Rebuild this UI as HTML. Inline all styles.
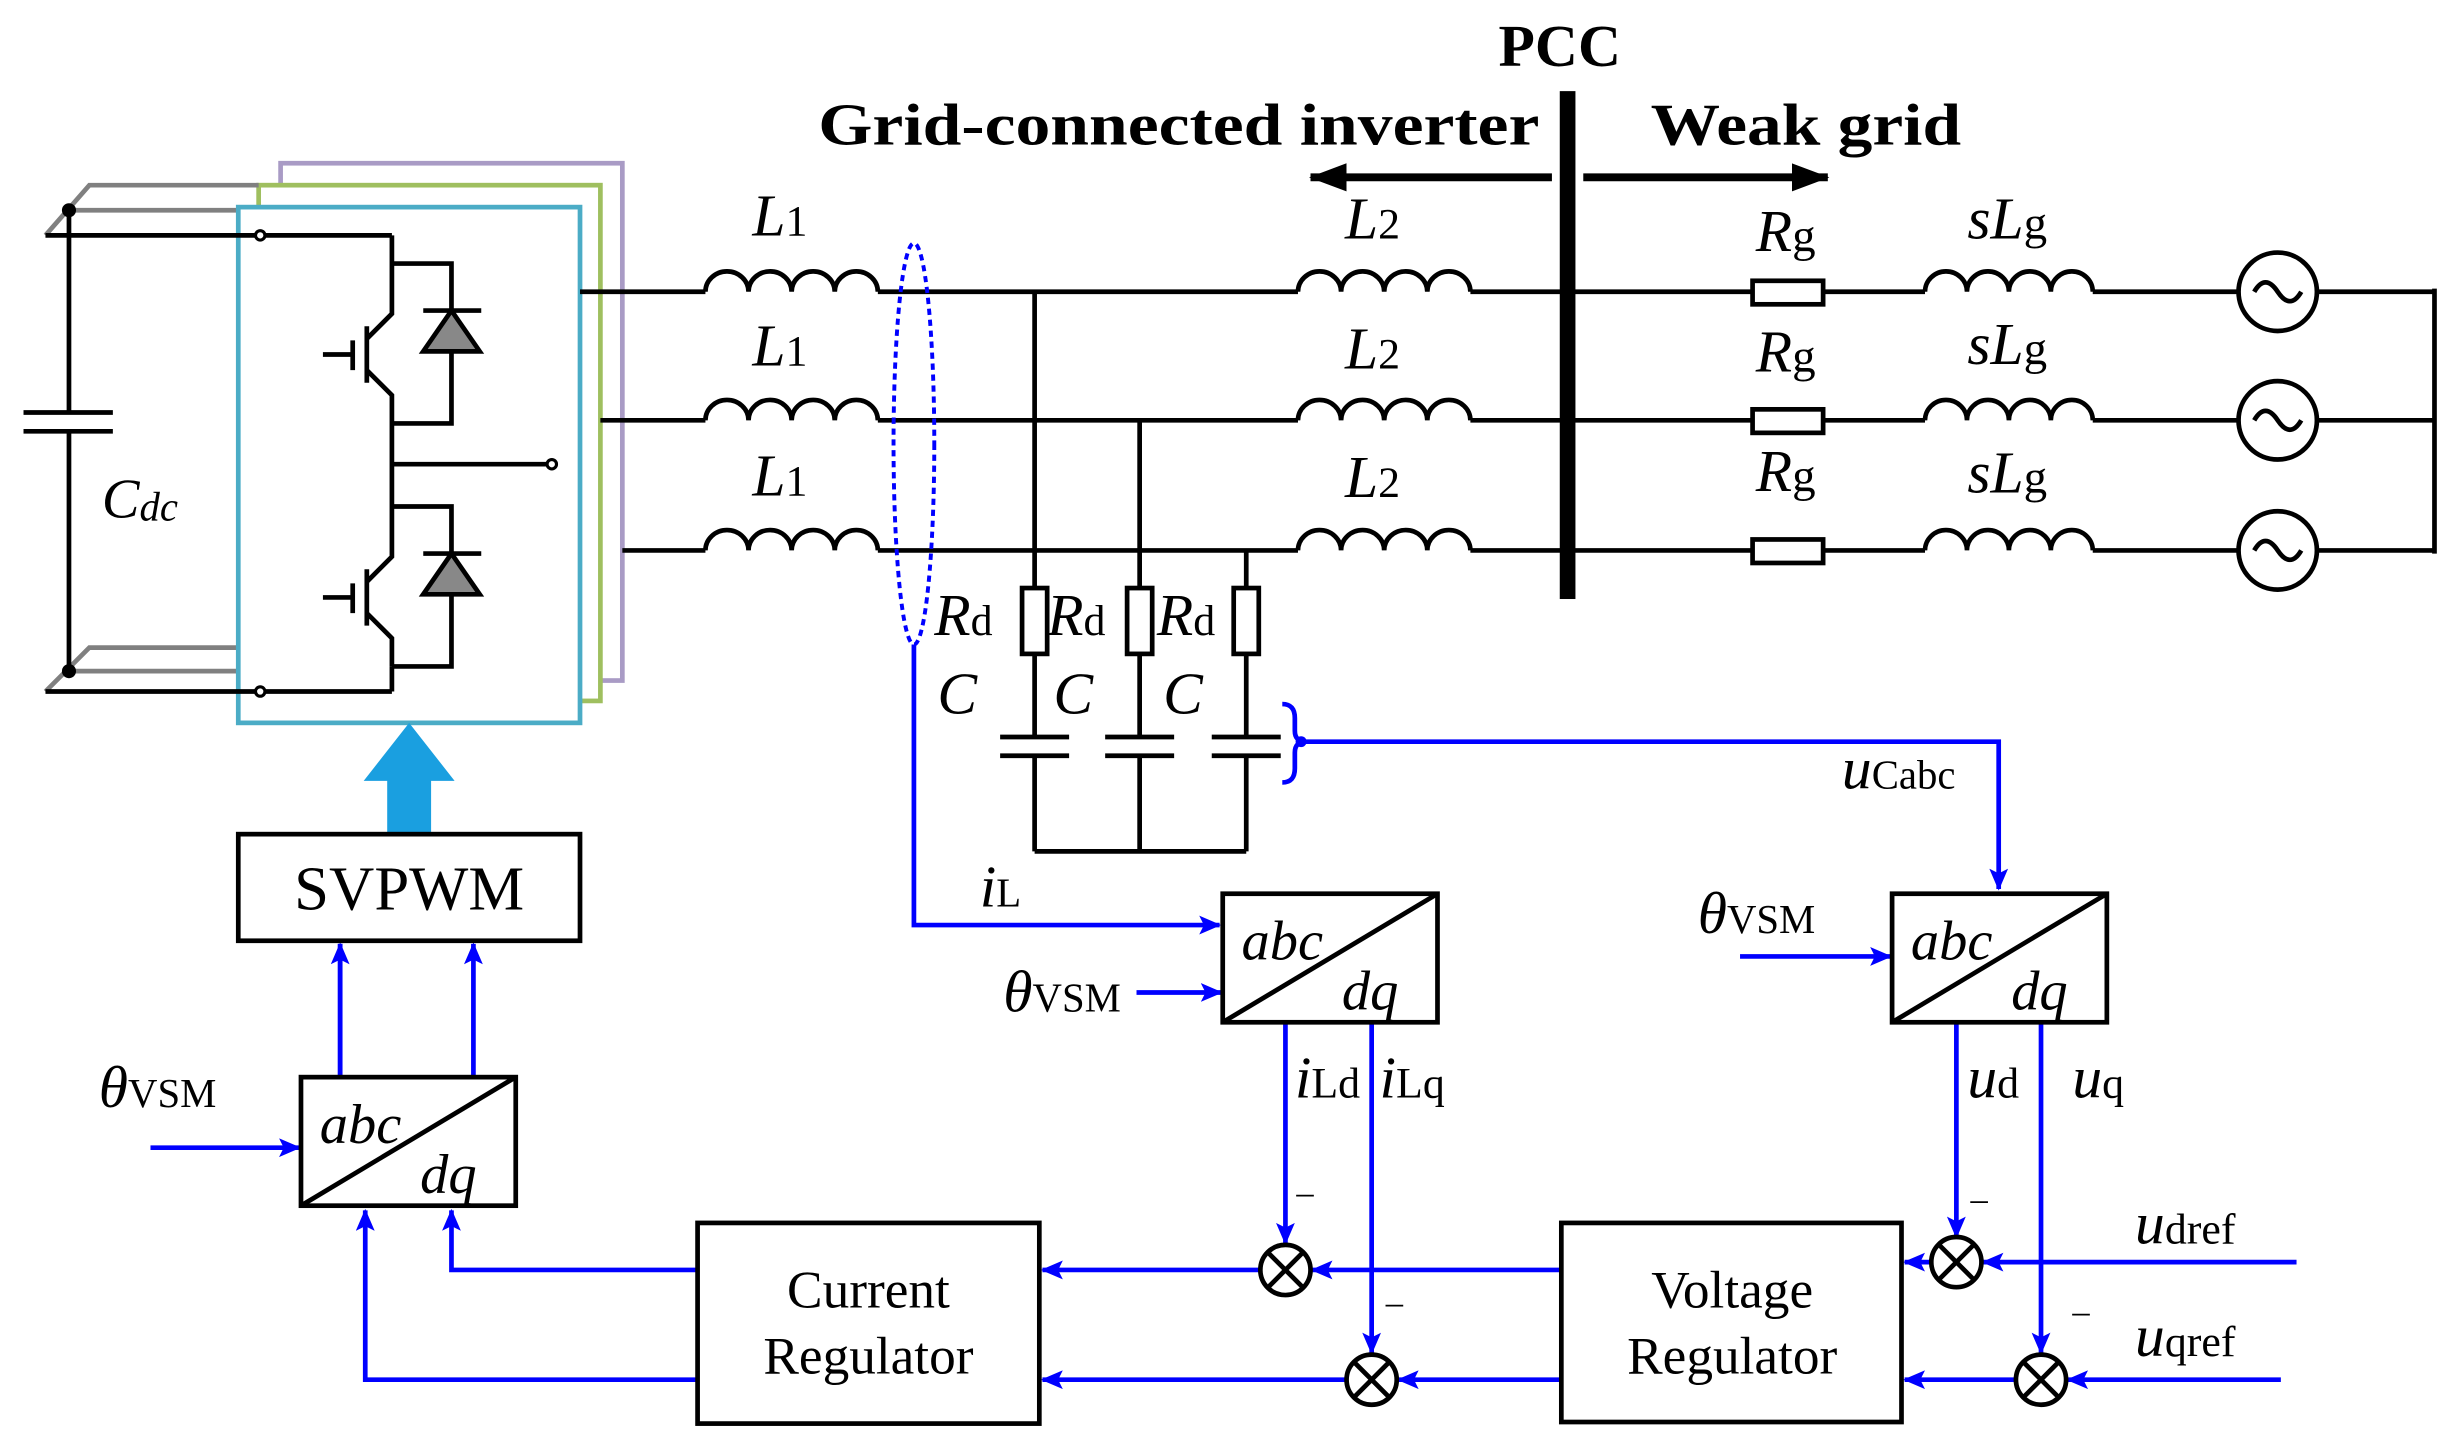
<!DOCTYPE html>
<html><head><meta charset="utf-8"><style>
html,body{margin:0;padding:0;background:#fff;}
svg{display:block;}
text{font-family:"Liberation Serif",serif;fill:#000;}
.it{font-style:italic;}
</style></head><body>
<svg width="2458" height="1452" viewBox="0 0 1568 926" xmlns="http://www.w3.org/2000/svg">
<defs>
<marker id="ab" markerWidth="14" markerHeight="12" refX="13" refY="6" orient="auto" markerUnits="userSpaceOnUse" viewBox="0 0 14 12"><path d="M0,0 L14,6 L0,12 L3,6 Z" fill="#0000ff"/></marker>
<marker id="ak" markerWidth="24" markerHeight="18" refX="23" refY="9" orient="auto" markerUnits="userSpaceOnUse"><path d="M0,0 L24,9 L0,18 Z" fill="#000"/></marker>
<g id="ind"><path d="M0,0 a13.75,13 0 0 1 27.5,0 a13.75,13 0 0 1 27.5,0 a13.75,13 0 0 1 27.5,0 a13.75,13 0 0 1 27.5,0" fill="none" stroke="#000" stroke-width="3"/></g>
<g id="sw" stroke="#000" stroke-width="3" fill="none">
<path d="M250,0 V32 L234,48 M234,40 V76 M225,49 V68 M206,58 H225 M234,68 L250,84 V102"/>
<path d="M250,0 H288 V102 H250"/>
<path d="M270,30 H307"/>
<path d="M288,30 L306,56 H270 Z" fill="#888"/>
</g>
<g id="abcdq"><rect x="0" y="0" width="137" height="82" fill="#fff" stroke="#000" stroke-width="3"/><path d="M0,82 L137,0" stroke="#000" stroke-width="3"/>
<text x="12" y="42" font-size="36" class="it">abc</text><text x="76" y="74" font-size="36" class="it">dq</text></g>
<g id="mul"><circle r="16" fill="#fff" stroke="#000" stroke-width="3"/><path d="M-11,-11 L11,11 M-11,11 L11,-11" stroke="#000" stroke-width="3"/></g>
</defs>

<rect x="179" y="104" width="218" height="330" fill="none" stroke="#a99bc5" stroke-width="3"/>
<rect x="165" y="118" width="218" height="329" fill="#fff" stroke="#9fbf5f" stroke-width="3"/>
<path d="M29,150 L57,118 H165 M44,134 H152 M29,441 L57,413 H152 M44,428 H152" fill="none" stroke="#808080" stroke-width="3"/>
<rect x="152" y="132" width="218" height="329" fill="#fff" stroke="#4bacc6" stroke-width="3"/>
<path d="M29,150 H250 M29,441 H250 M44,134 V263 M44,275 V428 M15,263 H72 M15,275 H72" stroke="#000" stroke-width="3" fill="none"/>
<circle cx="44" cy="134" r="4.5"/><circle cx="44" cy="428" r="4.5"/>
<circle cx="166" cy="150" r="3" fill="#fff" stroke="#000" stroke-width="2"/><circle cx="166" cy="441" r="3" fill="#fff" stroke="#000" stroke-width="2"/>
<text x="65" y="330" font-size="36" class="it">C<tspan font-size="26" dy="2">dc</tspan></text>
<use href="#sw" transform="translate(0,168)"/>
<use href="#sw" transform="translate(0,323)"/>
<path d="M250,150 V168 M250,425 V441 M250,270 V323 M250,296 H352" stroke="#000" stroke-width="3"/>
<circle cx="352" cy="296" r="3" fill="#fff" stroke="#000" stroke-width="2"/>

<g stroke="#000" stroke-width="3" fill="none">
<path d="M370,186 H450 M560,186 H828 M938,186 H1118 M1163,186 H1228 M1335,186 H1428 M1478,186 H1553"/>
<path d="M383,268 H450 M560,268 H828 M938,268 H1118 M1163,268 H1228 M1335,268 H1428 M1478,268 H1553"/>
<path d="M397,351 H450 M560,351 H828 M938,351 H1118 M1163,351 H1228 M1335,351 H1428 M1478,351 H1553"/>
<path d="M1553,184 V353"/>
<rect x="1118" y="179" width="45" height="15"/><rect x="1118" y="261" width="45" height="15"/><rect x="1118" y="344" width="45" height="15"/>
<circle cx="1453" cy="186" r="25"/><circle cx="1453" cy="268" r="25"/><circle cx="1453" cy="351" r="25"/>
<path d="M1438,186 q7,-12 15,0 t15,0 M1438,268 q7,-12 15,0 t15,0 M1438,351 q7,-12 15,0 t15,0"/>
<path d="M660,186 V375 M727,268 V375 M795,351 V375 M660,417 V470 M727,417 V470 M795,417 V470 M660,482 V543 M727,482 V543 M795,482 V543 M660,543 H795"/>
<rect x="652" y="375" width="16" height="42"/><rect x="719" y="375" width="16" height="42"/><rect x="787" y="375" width="16" height="42"/>
<path d="M638,470 H682 M638,482 H682 M705,470 H749 M705,482 H749 M773,470 H817 M773,482 H817"/>
</g>
<g>
<use href="#ind" transform="translate(450,186)"/><use href="#ind" transform="translate(450,268)"/><use href="#ind" transform="translate(450,351)"/>
<use href="#ind" transform="translate(828,186)"/><use href="#ind" transform="translate(828,268)"/><use href="#ind" transform="translate(828,351)"/>
<use href="#ind" transform="translate(1228,186) scale(0.973,1)"/><use href="#ind" transform="translate(1228,268) scale(0.973,1)"/><use href="#ind" transform="translate(1228,351) scale(0.973,1)"/>
</g>
<g font-size="38">
<text x="480" y="150" class="it">L<tspan font-size="28" font-style="normal">1</tspan></text>
<text x="480" y="233" class="it">L<tspan font-size="28" font-style="normal">1</tspan></text>
<text x="480" y="316" class="it">L<tspan font-size="28" font-style="normal">1</tspan></text>
<text x="858" y="152" class="it">L<tspan font-size="28" font-style="normal">2</tspan></text>
<text x="858" y="235" class="it">L<tspan font-size="28" font-style="normal">2</tspan></text>
<text x="858" y="317" class="it">L<tspan font-size="28" font-style="normal">2</tspan></text>
<text x="1120" y="160" class="it">R<tspan font-size="30" font-style="normal">g</tspan></text>
<text x="1120" y="237" class="it">R<tspan font-size="30" font-style="normal">g</tspan></text>
<text x="1120" y="313" class="it">R<tspan font-size="30" font-style="normal">g</tspan></text>
<text x="1255" y="152" class="it">sL<tspan font-size="30" font-style="normal">g</tspan></text>
<text x="1255" y="232" class="it">sL<tspan font-size="30" font-style="normal">g</tspan></text>
<text x="1255" y="314" class="it">sL<tspan font-size="30" font-style="normal">g</tspan></text>
<text x="596" y="405" class="it">R<tspan font-size="28" font-style="normal">d</tspan></text>
<text x="668" y="405" class="it">R<tspan font-size="28" font-style="normal">d</tspan></text>
<text x="738" y="405" class="it">R<tspan font-size="28" font-style="normal">d</tspan></text>
<text x="598" y="455" class="it">C</text><text x="672" y="455" class="it">C</text><text x="742" y="455" class="it">C</text>
</g>
<rect x="995" y="58" width="10" height="324" fill="#000"/>
<text x="995" y="42" font-size="38" font-weight="bold" text-anchor="middle">PCC</text>
<text x="522" y="92" font-size="38" font-weight="bold" textLength="460" lengthAdjust="spacingAndGlyphs">Grid-connected inverter</text>
<text x="1053" y="92" font-size="38" font-weight="bold" textLength="198" lengthAdjust="spacingAndGlyphs">Weak grid</text>
<path d="M990,113 H836" stroke="#000" stroke-width="5" marker-end="url(#ak)"/>
<path d="M1010,113 H1166" stroke="#000" stroke-width="5" marker-end="url(#ak)"/>

<ellipse cx="583" cy="283" rx="13" ry="128" fill="none" stroke="#0000ff" stroke-width="2.5" stroke-dasharray="4,3"/>
<g stroke="#0000ff" stroke-width="3" fill="none">
<path d="M583,411 V590 H778" marker-end="url(#ab)"/>
<path d="M818,449 Q826,449 826,458 V466 Q826,473 833,473 Q826,473 826,480 V490 Q826,499 818,499"/>
<path d="M833,473 H1275 V567" marker-end="url(#ab)"/>
<path d="M725,633 H779" marker-end="url(#ab)"/>
<path d="M1110,610 H1206" marker-end="url(#ab)"/>
<path d="M96,732 H191" marker-end="url(#ab)"/>
<path d="M217,687 V602 M302,687 V602" marker-end="url(#ab)"/>
<path d="M217,687 V602" marker-end="url(#ab)"/>
<path d="M820,652 V793" marker-end="url(#ab)"/>
<path d="M875,652 V863" marker-end="url(#ab)"/>
<path d="M1248,652 V789" marker-end="url(#ab)"/>
<path d="M1302,652 V863" marker-end="url(#ab)"/>
<path d="M996,810 H837" marker-end="url(#ab)"/>
<path d="M804,810 H665" marker-end="url(#ab)"/>
<path d="M996,880 H892" marker-end="url(#ab)"/>
<path d="M859,880 H665" marker-end="url(#ab)"/>
<path d="M1465,805 H1265" marker-end="url(#ab)"/>
<path d="M1232,805 H1215" marker-end="url(#ab)"/>
<path d="M1455,880 H1319" marker-end="url(#ab)"/>
<path d="M1286,880 H1215" marker-end="url(#ab)"/>
<path d="M445,810 H288 V772" marker-end="url(#ab)"/>
<path d="M445,880 H233 V772" marker-end="url(#ab)"/>
</g>
<circle cx="830" cy="473" r="3.5" fill="#0000ff"/>
<path d="M247,532 V498 H232 L261,461 L290,498 H275 V532 Z" fill="#1a9fe0"/>
<rect x="152" y="532" width="218" height="68" fill="#fff" stroke="#000" stroke-width="3"/>
<text x="261" y="580" font-size="40" text-anchor="middle">SVPWM</text>
<use href="#abcdq" transform="translate(780,570)"/>
<use href="#abcdq" transform="translate(1207,570)"/>
<use href="#abcdq" transform="translate(192,687)"/>
<use href="#mul" transform="translate(820,810)"/>
<use href="#mul" transform="translate(875,880)"/>
<use href="#mul" transform="translate(1248,805)"/>
<use href="#mul" transform="translate(1302,880)"/>
<rect x="445" y="780" width="218" height="128" fill="#fff" stroke="#000" stroke-width="3"/>
<text x="554" y="834" font-size="34" text-anchor="middle">Current</text>
<text x="554" y="876" font-size="34" text-anchor="middle">Regulator</text>
<rect x="996" y="780" width="217" height="127" fill="#fff" stroke="#000" stroke-width="3"/>
<text x="1105" y="834" font-size="34" text-anchor="middle">Voltage</text>
<text x="1105" y="876" font-size="34" text-anchor="middle">Regulator</text>
<g font-size="38">
<text x="1175" y="503" class="it">u<tspan font-size="26" font-style="normal">Cabc</tspan></text>
<text x="625" y="578" class="it">i<tspan font-size="26" font-style="normal">L</tspan></text>
<text x="640" y="645" class="it">θ<tspan font-size="26" font-style="normal">VSM</tspan></text>
<text x="1083" y="595" class="it">θ<tspan font-size="26" font-style="normal">VSM</tspan></text>
<text x="63" y="706" class="it">θ<tspan font-size="26" font-style="normal">VSM</tspan></text>
<text x="826" y="700" class="it">i<tspan font-size="28" font-style="normal">Ld</tspan></text>
<text x="880" y="700" class="it">i<tspan font-size="28" font-style="normal">Lq</tspan></text>
<text x="1255" y="700" class="it">u<tspan font-size="28" font-style="normal">d</tspan></text>
<text x="1322" y="700" class="it">u<tspan font-size="28" font-style="normal">q</tspan></text>
<text x="1362" y="793" class="it">u<tspan font-size="28" font-style="normal">dref</tspan></text>
<text x="1362" y="865" class="it">u<tspan font-size="28" font-style="normal">qref</tspan></text>
</g>
<g font-size="22"><text x="827" y="768">–</text><text x="884" y="838">–</text><text x="1257" y="772">–</text><text x="1322" y="844">–</text></g>
</svg>
</body></html>
